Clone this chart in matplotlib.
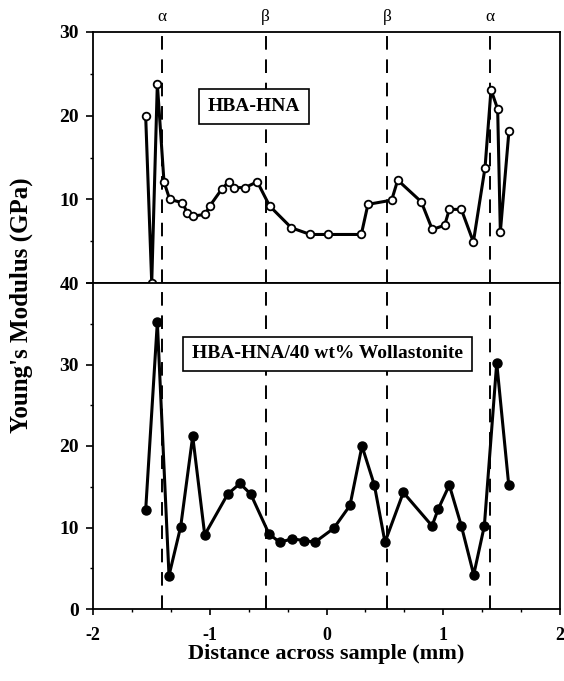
import matplotlib
matplotlib.use("Agg")
import matplotlib.pyplot as plt
from matplotlib.ticker import MultipleLocator

plt.rcParams['font.family'] = ['Liberation Serif', 'DejaVu Serif']
plt.rcParams['font.weight'] = 'bold'

# Top panel: HBA-HNA (open circles)
x_top = [-1.549, -1.497, -1.449, -1.392, -1.343, -1.235, -1.192, -1.141, -1.041, -1.0,
         -0.898, -0.838, -0.79, -0.698, -0.593, -0.487, -0.301, -0.139, 0.015, 0.298,
         0.355, 0.558, 0.61, 0.812, 0.906, 1.012, 1.052, 1.155, 1.258, 1.358,
         1.409, 1.466, 1.489, 1.563]
y_top = [20.0, 0.0, 23.8, 12.1, 10.0, 9.6, 8.4, 8.0, 8.2, 9.2,
         11.2, 12.1, 11.4, 11.4, 12.1, 9.2, 6.6, 5.8, 5.8, 5.8,
         9.4, 9.9, 12.3, 9.7, 6.4, 6.9, 8.8, 8.8, 4.9, 13.8,
         23.1, 20.8, 6.1, 18.2]

# Bottom panel: HBA-HNA/40 wt% Wollastonite (filled circles)
x_bot = [-1.549, -1.449, -1.349, -1.249, -1.146, -1.043, -0.846, -0.741, -0.649, -0.492,
         -0.401, -0.293, -0.19, -0.099, 0.062, 0.201, 0.304, 0.41, 0.501, 0.658,
         0.904, 0.958, 1.052, 1.155, 1.261, 1.352, 1.458, 1.561]
y_bot = [12.1, 35.2, 4.1, 10.1, 21.2, 9.1, 14.1, 15.4, 14.1, 9.2,
         8.2, 8.6, 8.4, 8.2, 9.9, 12.7, 20.0, 15.2, 8.2, 14.3,
         10.2, 12.3, 15.2, 10.2, 4.2, 10.2, 30.2, 15.2]

zone_pos = [-1.41, -0.52, 0.52, 1.40]
zone_labels = ['α', 'β', 'β', 'α']

label_top = 'HBA-HNA'
label_bot = 'HBA-HNA/40 wt% Wollastonite'
xticks = [-2, -1, 0, 1, 2]
xticklabels = ['-2', '-1', '0', '1', '2']
yticks_top = [0, 10, 20, 30]
yticklabels_top = ['', '10', '20', '30']
yticks_bot = [0, 10, 20, 30, 40]
yticklabels_bot = ['0', '10', '20', '30', '40']

W, H = 564, 681
fig = plt.figure(figsize=(W / 100, H / 100), dpi=100)
L, R = 93, 560
ax1 = fig.add_axes([L / W, 1 - 283 / H, (R - L) / W, (283 - 32) / H])
ax2 = fig.add_axes([L / W, 1 - 609 / H, (R - L) / W, (609 - 283) / H])

for ax in (ax1, ax2):
    ax.set_xlim(-2, 2)
    for s in ax.spines.values():
        s.set_linewidth(1.3)
    for xv in zone_pos:
        ax.axvline(xv, color='black', lw=1.4, ls=(0, (7, 5)), zorder=1)
    ax.yaxis.set_minor_locator(MultipleLocator(5))
    ax.tick_params(axis='y', which='major', direction='out', length=5, width=1.2,
                   pad=5, labelsize=14)
    ax.tick_params(axis='y', which='minor', direction='out', length=2.5, width=1.0)
    ax.tick_params(axis='y', which='both', right=False)

ax1.set_ylim(0, 30)
ax1.set_yticks(yticks_top)
ax1.set_yticklabels(yticklabels_top)
ax1.set_xticks([])
ax1.plot(x_top, y_top, color='black', lw=2.2, marker='o', ms=5.5,
         mfc='white', mec='black', mew=1.3, clip_on=False, zorder=3)
ax1.text(-0.625, 21.1, label_top, ha='center', va='center', fontsize=14,
         fontweight='bold', zorder=4,
         bbox=dict(boxstyle='square,pad=0.45', fc='white', ec='black', lw=1.2))
for xv, lab in zip(zone_pos, zone_labels):
    ax1.text(xv, 1.06, lab, transform=ax1.get_xaxis_transform(), ha='center',
             va='center', fontsize=12.5, fontweight='normal')

ax2.set_ylim(0, 40)
ax2.set_yticks(yticks_bot)
ax2.set_yticklabels(yticklabels_bot)
ax2.set_xticks(xticks)
ax2.set_xticklabels(xticklabels)
ax2.xaxis.set_minor_locator(MultipleLocator(1 / 3))
ax2.tick_params(axis='x', which='major', direction='out', length=4, width=1.2,
                pad=9, labelsize=13)
ax2.tick_params(axis='x', which='minor', direction='out', length=2.5, width=1.0)
ax2.plot(x_bot, y_bot, color='black', lw=2.2, marker='o', ms=6.5,
         mfc='black', mec='black', clip_on=False, zorder=3)
ax2.text(0.01, 31.3, label_bot, ha='center', va='center', fontsize=14,
         fontweight='bold', zorder=4,
         bbox=dict(boxstyle='square,pad=0.45', fc='white', ec='black', lw=1.2))

fig.text(326 / W, 1 - 654 / H, 'Distance across sample (mm)', ha='center',
         va='center', fontsize=16, fontweight='bold')
fig.text(21 / W, 1 - 305 / H, "Young's Modulus (GPa)", ha='center', va='center',
         rotation=90, fontsize=18, fontweight='bold')

fig.savefig('out.png', dpi=100)
